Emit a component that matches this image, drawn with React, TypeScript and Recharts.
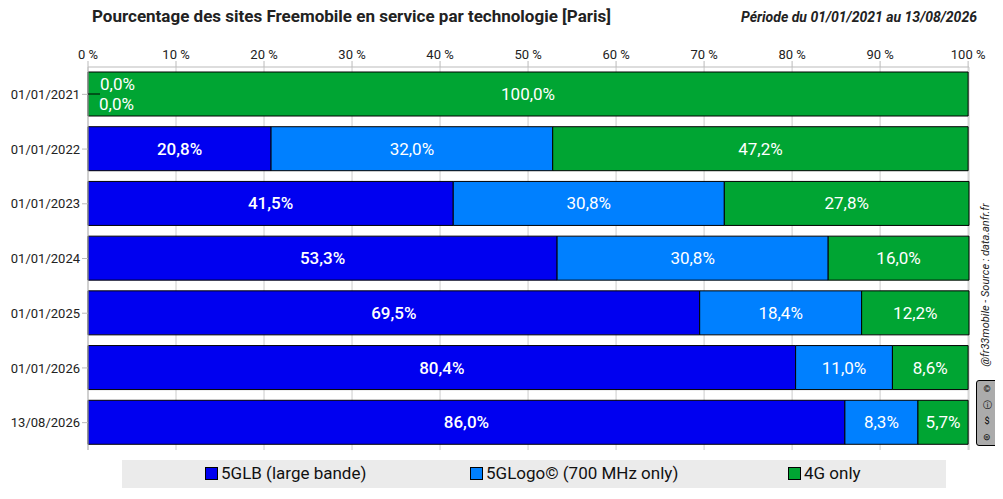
import { Bar, BarChart, CartesianGrid, LabelList, XAxis, YAxis } from "recharts";

const dates = ["01/01/2021", "01/01/2022", "01/01/2023", "01/01/2024", "01/01/2025", "01/01/2026", "13/08/2026"];
const g5lb = [0, 20.8, 41.5, 53.3, 69.5, 80.4, 86.0];
const g5logo = [0, 32.0, 30.8, 30.8, 18.4, 11.0, 8.3];
const g4 = [100, 47.2, 27.8, 16.0, 12.2, 8.6, 5.7];
const xTicks = [0, 10, 20, 30, 40, 50, 60, 70, 80, 90, 100];

const data = dates.map((d, i) => ({ date: d, lb: g5lb[i], logo: g5logo[i], g4: g4[i] }));

const FONT = "Roboto, sans-serif";
const fmt = (v: number) => v.toFixed(1).replace(".", ",") + "%";

const Lbl = (idx: number) => (props: any) => {
  const { x, y, width, height, value, index } = props;
  const main = (
    <text x={x + width / 2} y={y + height / 2} fill="#fff" fontSize={17} fontFamily={FONT} fontWeight={idx === 0 ? 500 : 400}
      textAnchor="middle" dominantBaseline="central">
      {fmt(value)}
    </text>
  );
  if (idx === 2 && g5lb[index] === 0 && g5logo[index] === 0) {
    return (
      <g>
        {main}
        <line x1={x} x2={x + 12} y1={y + height / 2} y2={y + height / 2} stroke="#000" />
        <text x={x + 12} y={y + height / 2 - 10} fill="#fff" fontSize={17} fontFamily={FONT} dominantBaseline="central">{fmt(g5lb[index])}</text>
        <text x={x + 11} y={y + height / 2 + 10} fill="#fff" fontSize={17} fontFamily={FONT} dominantBaseline="central">{fmt(g5logo[index])}</text>
      </g>
    );
  }
  if (!value) return null;
  return main;
};

const legend = [
  { name: "5GLB (large bande)", color: "#0000f0", x: 205 },
  { name: "5GLogo© (700 MHz only)", color: "#0080ff", x: 470 },
  { name: "4G only", color: "#00a533", x: 788 },
];

export default function App() {
  return (
    <div style={{ position: "relative", width: 1003, height: 499, margin: -8, background: "#fff", fontFamily: FONT }}>
      <div style={{ position: "absolute", left: 92, top: 6, fontSize: 17, fontWeight: 700, color: "#222" }}>
        Pourcentage des sites Freemobile en service par technologie [Paris]
      </div>
      <div style={{ position: "absolute", right: 26, top: 9, fontSize: 14, fontWeight: 700, fontStyle: "italic", color: "#222" }}>
        Période du 01/01/2021 au 13/08/2026
      </div>
      <BarChart width={1003} height={499} data={data} layout="vertical" barSize={44}
        margin={{ top: 37, right: 34, bottom: 49, left: 0 }}>
        <CartesianGrid horizontal={false} stroke="#ccc" />
        <XAxis type="number" orientation="top" height={30} domain={[0, 100]} ticks={xTicks} tickFormatter={(v) => `${v} %`}
          tick={{ fontSize: 13, fill: "#222", fontFamily: FONT }} stroke="#bbb" tickLine={{ stroke: "#bbb" }} />
        <YAxis type="category" dataKey="date" width={88} tick={{ fontSize: 13, fill: "#222", fontFamily: FONT }}
          stroke="#bbb" tickLine={{ stroke: "#bbb" }} />
        <Bar dataKey="lb" stackId="a" fill="#0000f0" stroke="#000" isAnimationActive={false}>
          <LabelList dataKey="lb" content={Lbl(0)} />
        </Bar>
        <Bar dataKey="logo" stackId="a" fill="#0080ff" stroke="#000" isAnimationActive={false}>
          <LabelList dataKey="logo" content={Lbl(1)} />
        </Bar>
        <Bar dataKey="g4" stackId="a" fill="#00a533" stroke="#000" isAnimationActive={false}>
          <LabelList dataKey="g4" content={Lbl(2)} />
        </Bar>
      </BarChart>
      <div style={{ position: "absolute", left: 122, top: 460, width: 824, height: 28, background: "#ebebeb" }} />
      {legend.map((l) => (
        <div key={l.name} style={{ position: "absolute", left: l.x, top: 463, fontSize: 17, color: "#111", display: "flex", alignItems: "center" }}>
          <span style={{ display: "inline-block", width: 11, height: 11, background: l.color, border: "1px solid #000", marginRight: 3 }} />
          {l.name}
        </div>
      ))}
      <div style={{ position: "absolute", left: 985, top: 195, transform: "translate(-50%, 0) rotate(-90deg)", transformOrigin: "center",
        whiteSpace: "nowrap", fontSize: 11, fontStyle: "italic", color: "#222", width: 0, height: 180, display: "flex", alignItems: "center", justifyContent: "center" }}>
        <span>@fr33mobile - Source : data.anfr.fr</span>
      </div>
      <div style={{ position: "absolute", left: 976, top: 380, width: 20, height: 64, background: "#ababab", border: "1px solid #000", borderRadius: 3,
        fontSize: 9, color: "#000", textAlign: "center", lineHeight: "16px" }}>
        ©<br />ⓘ<br />$<br />⊜
      </div>
    </div>
  );
}
